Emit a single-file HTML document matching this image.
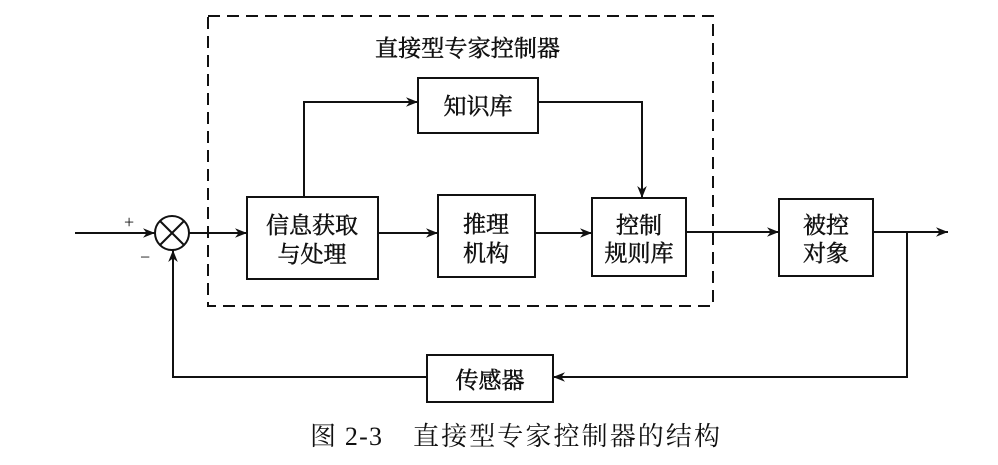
<!DOCTYPE html>
<html><head><meta charset="utf-8"><style>
body{margin:0;background:#fff;}
svg text{font-family:"Liberation Serif","Noto Serif CJK SC","Noto Sans CJK SC",serif;fill:#111;}
</style></head><body>
<svg width="998" height="460" viewBox="0 0 998 460" xmlns="http://www.w3.org/2000/svg">
<defs><marker id="a" viewBox="0 0 10 10" refX="10" refY="5" markerWidth="16" markerHeight="12" orient="auto" markerUnits="userSpaceOnUse"><path d="M0,1 L10,5 L0,9 L3,5 z" fill="#111"/></marker></defs>
<g stroke="#111" stroke-width="2" fill="none">
<rect x="208" y="16" width="505" height="290" stroke-dasharray="12,7"/>
<rect x="418" y="78" width="120" height="55"/>
<rect x="247" y="197" width="131" height="82"/>
<rect x="438" y="195" width="97" height="82"/>
<rect x="592" y="198" width="94" height="78"/>
<rect x="779" y="199" width="94" height="77"/>
<rect x="427" y="355" width="126" height="47"/>
<circle cx="172" cy="233" r="17"/>
<line x1="160" y1="221" x2="184" y2="245"/><line x1="184" y1="221" x2="160" y2="245"/>
<line x1="75" y1="233" x2="155" y2="233" marker-end="url(#a)"/>
<line x1="189" y1="233" x2="247" y2="233" marker-end="url(#a)"/>
<polyline points="304,197 304,102 418,102" marker-end="url(#a)"/>
<polyline points="538,102 642,102 642,198" marker-end="url(#a)"/>
<line x1="378" y1="233" x2="438" y2="233" marker-end="url(#a)"/>
<line x1="535" y1="233" x2="592" y2="233" marker-end="url(#a)"/>
<line x1="686" y1="232" x2="779" y2="232" marker-end="url(#a)"/>
<line x1="873" y1="232" x2="948" y2="232" marker-end="url(#a)"/>
<polyline points="907,232 907,377 553,377" marker-end="url(#a)"/>
<polyline points="427,377 173,377 173,250" marker-end="url(#a)"/>
</g>
<g font-size="23" stroke="#111" stroke-width="0.5">
<text x="375" y="56" textLength="185">直接型专家控制器</text>
<text x="478" y="114" text-anchor="middle">知识库</text>
<text x="312" y="233" text-anchor="middle">信息获取</text>
<text x="312" y="262" text-anchor="middle">与处理</text>
<text x="486" y="232" text-anchor="middle">推理</text>
<text x="486" y="261" text-anchor="middle">机构</text>
<text x="639" y="233" text-anchor="middle">控制</text>
<text x="639" y="261" text-anchor="middle">规则库</text>
<text x="826" y="233" text-anchor="middle">被控</text>
<text x="826" y="261" text-anchor="middle">对象</text>
<text x="490" y="388" text-anchor="middle">传感器</text>
</g>
<text x="310" y="445" font-size="26" textLength="72">图 2-3</text>
<text x="413" y="445" font-size="26" textLength="307">直接型专家控制器的结构</text>
<text x="124" y="228" font-size="18">+</text>
<text x="140" y="263" font-size="18">−</text>
</svg>
</body></html>
